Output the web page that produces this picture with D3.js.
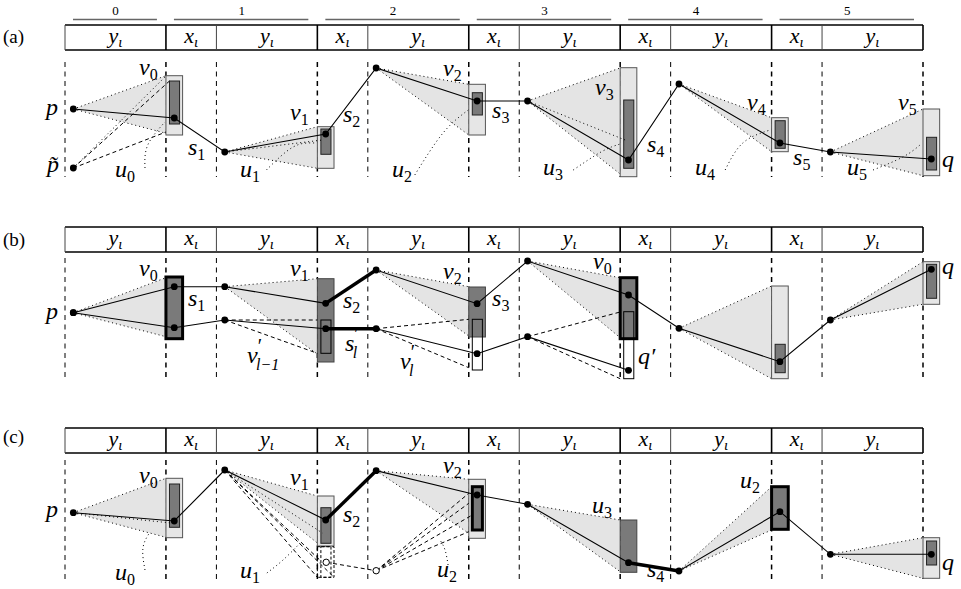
<!DOCTYPE html>
<html><head><meta charset="utf-8">
<script src="https://cdn.jsdelivr.net/npm/d3@7"></script>
<style>
body{margin:0;background:#fff}
svg text{font-family:"Liberation Serif","DejaVu Serif",serif;}
</style>
</head><body><div id="chart"></div>
<script>
// columns of the header table: y columns are 2 units wide, x columns 1 unit
const colKinds = ["y","x","y","x","y","x","y","x","y","x","y"];
const colUnits = [2,1,2,1,2,1,2,1,2,1,2];
const groupLabels = ["0","1","2","3","4","5"];
const panelLabels = ["(a)","(b)","(c)"];

// ---- panel (a) ----
const pathA = [[0.165,59],[2.165,68],[3.165,102],[5.165,84],[6.165,18],[8.165,51],[9.165,51],[11.165,110],[12.165,34],[14.165,93],[15.165,102],[17.165,109]];
const extraPtsA = [[0.165,118]];
const fansA = [[[0.165,59],2,25.7,83.3],[[3.165,102],5,76.7,118.3],[[6.165,18],8,34.3,85],[[9.165,51],11,18,124],[[12.165,34],14,67.7,101.7],[[15.165,102],17,59,125.7]];
const boxesA = [[2,25.7,85,31,74,"light"],[5,76.7,118.3,79,104.3,"light"],[8,34.3,85,42.7,65,"light"],[11,17.7,126.7,50,118.3,"light"],[14,67.7,101.7,70.7,98.3,"light"],[17,59,125.7,87.3,120,"light"]];
const dashA = [[[0.165,118],[2.07,31]],[[0.165,118],[2,82]]];
const dotA = [[[0.165,118],[2,26]],[[3.165,102],[5.1,90]],[[9.165,51],[11.1,90]]];
const curvesA = [[[1.585,118],[1.64,95],[1.98,72]],[[3.99,120],[4.52,97],[4.95,93]],[[6.93,125],[7.49,83],[7.99,60]],[[10.07,120],[10.63,101.7],[11.0,94]],[[13.08,120],[13.43,93],[13.97,80]],[[16.01,120],[16.6,107],[16.94,95]]];
const labelsA = [[-0.376,65,"p"],[-0.357,122,"p\u0303"],[1.466,25,"v","0"],[2.437,105,"s","1"],[0.991,127,"u","0"],[4.458,70,"v","1"],[5.508,72,"s","2"],[3.467,127,"u","1"],[7.49,26,"v","2"],[6.479,127,"u","2"],[8.461,68,"s","3"],[10.501,45,"v","3"],[9.471,125,"u","3"],[11.532,102,"s","4"],[13.513,60,"v","4"],[12.483,125,"u","4"],[14.425,115,"s","5"],[16.505,60,"v","5"],[15.494,125,"u","5"],[17.377,117,"q"]];

// ---- panel (b) ----
const pathB = [[0.165,60.7],[2.165,34.7],[3.165,34.7],[5.165,51.3],[6.165,18],[8.165,51.7],[9.165,9],[11.165,43],[12.165,76.3],[14.165,109.7],[15.165,68],[17.165,17.3]];
const pathB2 = [[0.165,60.7],[2.165,75.7],[3.165,68],[5.165,76.7],[6.165,76.7],[8.165,101.7],[9.165,84.7],[11.165,118.3]];
const thickB = [[[5.165,51.3],[6.165,18]],[[5.165,76.7],[6.165,76.7]]];
const fansB = [[[0.165,60.7],2,25.7,84.7],[[3.165,34.7],5,26.7,102],[[6.165,18],8,34.7,84],[[9.165,9],11,25.7,85.7],[[12.165,76.3],14,34,126.7],[[15.165,68],17,9.7,52.3]];
const boxesB = [[2,25,86.7,null,null,"darkThick"],[5,26.7,110,68,101.3,"darkOutline"],[8,35,85,67.3,118,"darkOutline"],[11,25.7,86.7,59.7,126.7,"darkThickOutline"],[14,34,126.7,92.3,120.7,"light"],[17,9.7,52.3,12.3,46.3,"light"]];
const dashB = [[[3.165,68],[5,68]],[[3.165,68],[5,101.3]],[[6.165,76.7],[8,67.3]],[[6.165,76.7],[8,115.7]],[[9.165,84.7],[11,60]],[[9.165,84.7],[11,126.7]]];
const labelsB = [[-0.376,67,"p"],[1.466,24,"v","0"],[2.437,54,"s","1"],[4.458,24,"v","1"],[5.508,55.7,"s","2"],[3.606,111,"v","l\u22121","\u2032"],[5.548,99,"s","l","\u2032"],[7.49,27,"v","2"],[6.638,117,"v","l","\u2032"],[8.461,54,"s","3"],[10.462,17,"v","0"],[11.353,112,"q\u2032"],[17.377,22,"q"]];

// ---- panel (c) ----
const pathC = [[0.165,59.7],[2.165,68],[3.165,17],[5.165,67],[6.165,17.7],[8.165,42],[9.165,51.3],[11.165,109.7],[12.165,118],[14.165,58.7],[15.165,101.3],[17.165,101.3]];
const thickC = [[[5.165,67],[6.165,17.7]],[[11.165,109.7],[12.165,118]]];
const hollowC = [[5.175,109.3],[6.165,117.7]];
const fansC = [[[0.165,59.7],2,25.3,84.3],[[3.165,17],5,43,90],[[6.165,17.7],8,26.3,80.3],[[9.165,51.3],11,67,118.7],[[12.165,118],14,33.7,77],[[15.165,101.3],17,84.7,125.3]];
const boxesC = [[2,25.3,84.7,31,74.3,"light"],[5,43,93,54.7,90.3,"light"],[8,26.3,85.3,33.7,77,"lightInnerThick"],[11,67,119.3,null,null,"dark"],[14,33.7,76.3,null,null,"darkThick"],[17,84.7,125.3,88,112,"light"]];
const dashBoxC = [[5,93.7,124.3]];
const dashC = [[[3.165,17],[5,124.3]],[[3.165,17],[5.07,108]],[[3.165,17],[5.33,124.3]],[[5.175,109.3],[6.165,117.7]],[[6.165,117.7],[8,40.3]],[[6.165,117.7],[8,50.3]],[[6.165,117.7],[8.07,62]],[[6.165,117.7],[8,78.7]]];
const dotC = [[[0.165,59.7],[2.1,70]],[[3.165,17],[5.1,80]]];
const curvesC = [[[1.585,117],[1.545,95],[1.685,79]],[[4.0,120],[4.32,107],[4.66,90]],[[7.59,112],[7.53,97],[7.43,87]]];
const labelsC = [[-0.376,63.7,"p"],[1.466,30,"v","0"],[0.991,127,"u","0"],[4.458,32,"v","1"],[5.508,68.7,"s","2"],[3.467,125,"u","1"],[7.49,20,"v","2"],[7.371,123.7,"u","2"],[10.442,60,"u","3"],[11.532,124,"s","4"],[13.374,35,"u","2"],[17.377,117,"q"]];

const panels = [
  {top:25, dashTop:12, paths:[pathA], thick:[], pts:extraPtsA, fans:fansA, boxes:boxesA, dashed:dashA, dotted:dotA, curves:curvesA, hollow:[], dashBoxes:[], labels:labelsA, lab:43},
  {top:227, dashTop:6, paths:[pathB,pathB2], thick:thickB, pts:[], fans:fansB, boxes:boxesB, dashed:dashB, dotted:[], curves:[], hollow:[], dashBoxes:[], labels:labelsB, lab:246},
  {top:428, dashTop:7, paths:[pathC], thick:thickC, pts:[], fans:fansC, boxes:boxesC, dashed:dashC, dotted:dotC, curves:curvesC, hollow:hollowC, dashBoxes:dashBoxC, labels:labelsC, lab:443}
];

const bounds = Array.from(d3.cumsum([0].concat(colUnits)));
const x = d3.scaleLinear().domain([0,17]).range([65,923]);
const svg = d3.select("#chart").append("svg")
    .attr("width",961).attr("height",589)
    .attr("font-family","Liberation Serif, DejaVu Serif, serif");

// group numbers over the first table
groupLabels.forEach(function(g,i){
  const s = i==0 ? 0 : bounds[2*i-1];
  const e = bounds[2*i+1];
  svg.append("line").attr("x1",x(s)+8).attr("x2",x(e)-9).attr("y1",19.5).attr("y2",19.5)
     .attr("stroke","#666").attr("stroke-width",1.4);
  svg.append("text").attr("x",(x(s)+x(e))/2).attr("y",15).attr("text-anchor","middle")
     .style("font-size","13px").text(g);
});

function mathLabel(g, px, py, main, sub, sup){
  const t = g.append("text").attr("x",px).attr("y",py).style("font-style","italic");
  t.append("tspan").style("font-size","24px").text(main);
  if(sup){
    t.append("tspan").attr("dy",-10).style("font-size","20px").style("font-style","normal").text(sup);
  }
  if(sub){
    const tsp = t.append("tspan").attr("dy",sup?17:5).style("font-size","16px")
       .style("font-style",/^[0-9]+$/.test(sub)?"normal":"italic").text(sub);
    if(sup) tsp.attr("dx",-6);
  }
}

panels.forEach(function(P,pi){
  const B = P.top+25;
  const y = d3.scaleLinear().domain([0,130]).range([B,B+130]);
  const g = svg.append("g");
  const pt = d => [x(d[0]),y(d[1])];

  // panel label
  g.append("text").attr("x",3).attr("y",P.lab).style("font-size","19px").text(panelLabels[pi]);

  // header table
  g.append("line").attr("x1",x(0)).attr("x2",x(17)).attr("y1",P.top).attr("y2",P.top).attr("stroke","#000").attr("stroke-width",1.3);
  g.append("line").attr("x1",x(0)).attr("x2",x(17)).attr("y1",B).attr("y2",B).attr("stroke","#000").attr("stroke-width",1.3);
  bounds.forEach(function(b,i){
    const heavy = i%2==1 || i==bounds.length-1;
    g.append("line").attr("x1",x(b)).attr("x2",x(b)).attr("y1",P.top).attr("y2",B)
      .attr("stroke",heavy?"#000":"#444").attr("stroke-width",heavy?1.6:1);
    g.append("line").attr("x1",x(b)).attr("x2",x(b)).attr("y1",y(P.dashTop)).attr("y2",y(127))
      .attr("stroke","#000").attr("stroke-width",heavy?1.5:1).attr("stroke-dasharray","5,4.5");
  });
  colKinds.forEach(function(k,i){
    const t = g.append("text").attr("x",x((bounds[i]+bounds[i+1])/2)).attr("y",(P.top+B)/2+5)
      .attr("text-anchor","middle").style("font-style","italic");
    t.append("tspan").style("font-size","22px").text(k);
    t.append("tspan").attr("dy",4).style("font-size","15px").text("\u03b9");
  });

  // shaded cones
  P.fans.forEach(function(f){
    const a = pt(f[0]), t0 = [x(f[1]),y(f[2])], t1 = [x(f[1]),y(f[3])];
    g.append("path").attr("d",d3.line()([a,t0,t1])+"Z").attr("fill","#e4e4e4");
    [t0,t1].forEach(function(e){
      g.append("path").attr("d",d3.line()([a,e])).attr("stroke","#000").attr("stroke-width",1)
        .attr("stroke-dasharray","1,3").attr("fill","none");
    });
  });

  // boxes
  P.boxes.forEach(function(b){
    const k=b[0], kind=b[5];
    const ox0=x(k), ow=x(k+0.33)-x(k), ix0=x(k+0.07), iw=x(k+0.27)-x(k+0.07);
    if(kind=="light" || kind=="lightInnerThick"){
      g.append("rect").attr("x",ox0).attr("y",y(b[1])).attr("width",ow).attr("height",y(b[2])-y(b[1]))
        .attr("fill","#e6e6e6").attr("stroke","#555").attr("stroke-width",1);
      g.append("rect").attr("x",ix0).attr("y",y(b[3])).attr("width",iw).attr("height",y(b[4])-y(b[3]))
        .attr("fill","#7a7a7a").attr("stroke",kind=="light"?"#222":"#000").attr("stroke-width",kind=="light"?1:3);
    } else {
      const thick = kind.indexOf("Thick")>=0;
      g.append("rect").attr("x",ox0).attr("y",y(b[1])).attr("width",ow).attr("height",y(b[2])-y(b[1]))
        .attr("fill","#7a7a7a").attr("stroke",thick?"#000":"#444").attr("stroke-width",thick?3:1);
      if(kind.indexOf("Outline")>=0){
        g.append("rect").attr("x",ix0).attr("y",y(b[3])).attr("width",iw).attr("height",y(b[4])-y(b[3]))
          .attr("fill","none").attr("stroke","#000").attr("stroke-width",1);
      }
    }
  });
  P.dashBoxes.forEach(function(b){
    const k=b[0];
    [[k,k+0.33],[k+0.07,k+0.27]].forEach(function(r){
      g.append("rect").attr("x",x(r[0])).attr("y",y(b[1])).attr("width",x(r[1])-x(r[0])).attr("height",y(b[2])-y(b[1]))
        .attr("fill","none").attr("stroke","#000").attr("stroke-width",1).attr("stroke-dasharray","3,2");
    });
  });

  // dashed and dotted helper lines
  P.dashed.forEach(function(d){
    g.append("path").attr("d",d3.line()(d.map(pt))).attr("stroke","#000").attr("stroke-width",1)
      .attr("stroke-dasharray","4,3").attr("fill","none");
  });
  P.dotted.forEach(function(d){
    g.append("path").attr("d",d3.line()(d.map(pt))).attr("stroke","#000").attr("stroke-width",1)
      .attr("stroke-dasharray","1,3").attr("fill","none");
  });
  P.curves.forEach(function(d){
    g.append("path").attr("d",d3.line().curve(d3.curveNatural)(d.map(pt))).attr("stroke","#000").attr("stroke-width",1)
      .attr("stroke-dasharray","1,3").attr("fill","none");
  });

  // solid paths
  P.paths.forEach(function(p){
    g.append("path").attr("d",d3.line()(p.map(pt))).attr("stroke","#000").attr("stroke-width",1.1).attr("fill","none");
  });
  P.thick.forEach(function(p){
    g.append("path").attr("d",d3.line()(p.map(pt))).attr("stroke","#000").attr("stroke-width",3.4).attr("fill","none");
  });

  // points
  const allPts = [].concat(...P.paths).concat(P.pts);
  g.selectAll("circle.f").data(allPts).join("circle").attr("class","f")
    .attr("cx",d=>x(d[0])).attr("cy",d=>y(d[1])).attr("r",3.4).attr("fill","#000");
  g.selectAll("circle.h").data(P.hollow).join("circle").attr("class","h")
    .attr("cx",d=>x(d[0])).attr("cy",d=>y(d[1])).attr("r",3.2).attr("fill","#fff").attr("stroke","#000").attr("stroke-width",1);

  // labels
  P.labels.forEach(function(l){
    mathLabel(g, x(l[0]), y(l[1]), l[2], l[3], l[4]);
  });
});
</script>
</body></html>
